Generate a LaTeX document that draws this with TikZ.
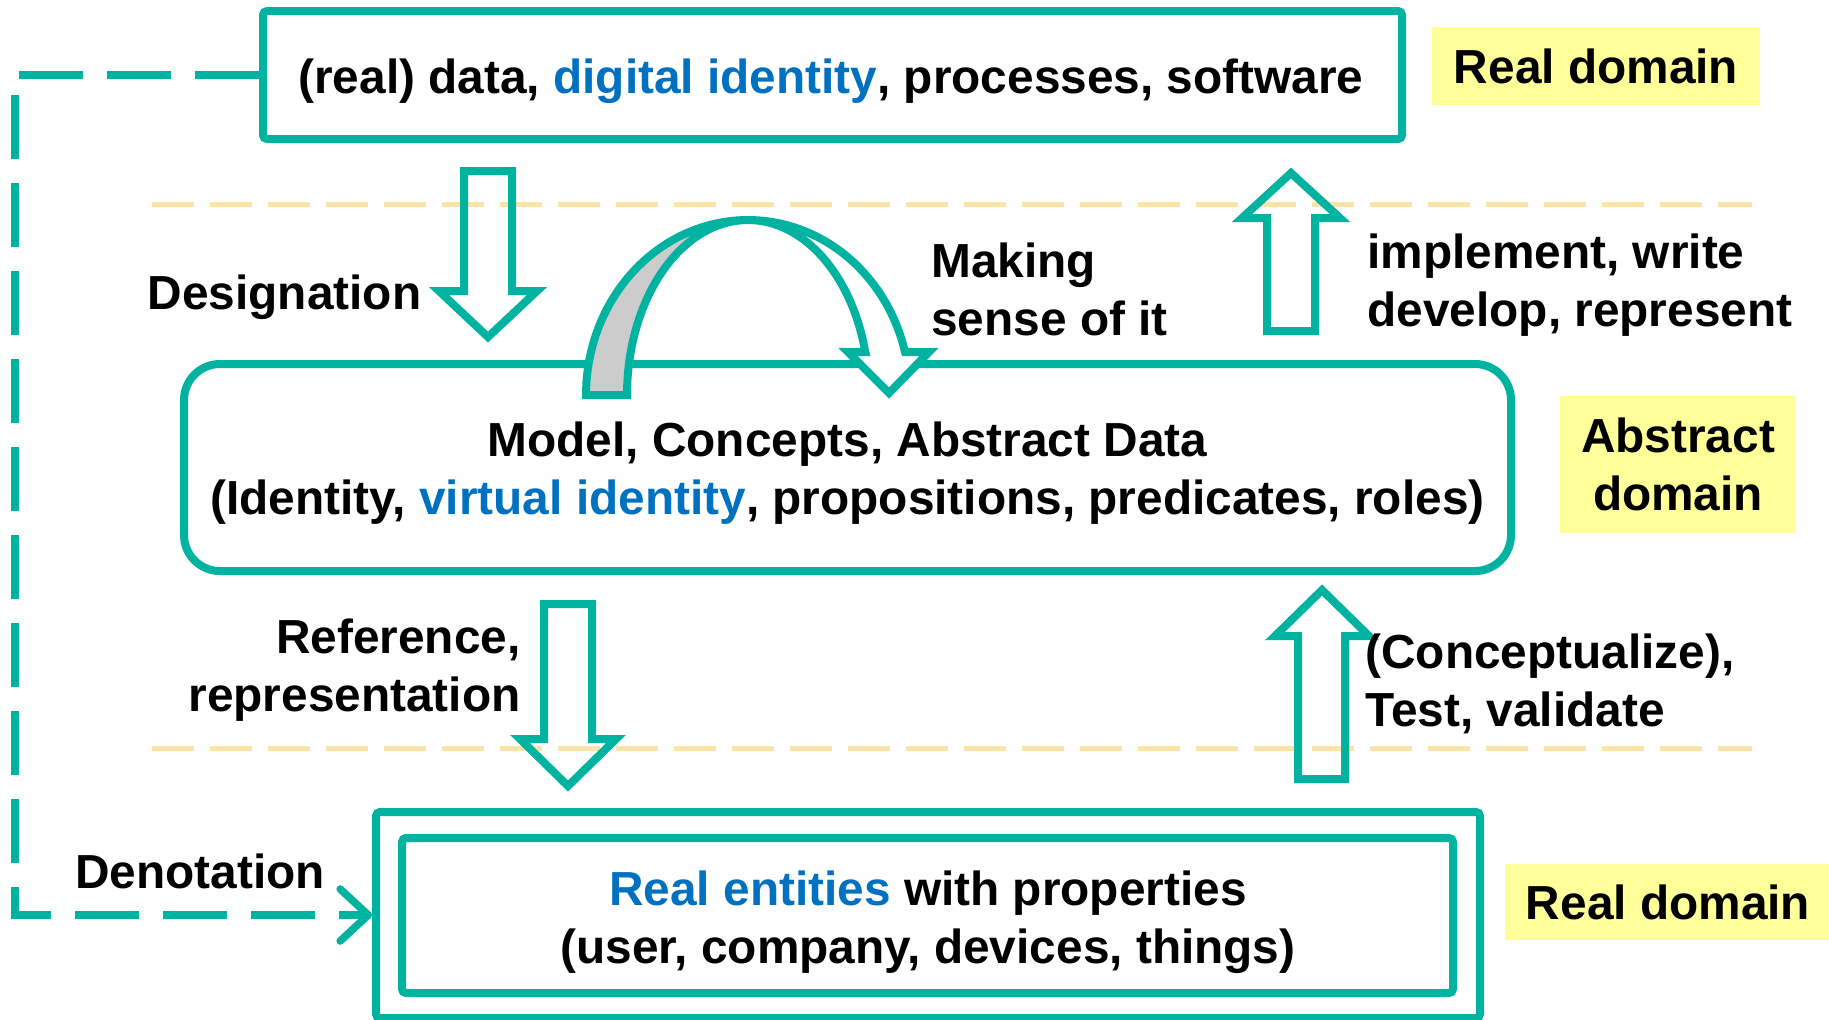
\documentclass[tikz,border=0pt]{standalone}
\usepackage{fontspec}
\setmainfont{Liberation Sans}
\usetikzlibrary{arrows.meta}
\definecolor{tealc}{RGB}{0,178,160}
\definecolor{blueid}{RGB}{0,112,192}
\definecolor{paleor}{RGB}{255,226,165}
\definecolor{yelbg}{RGB}{255,255,153}
\definecolor{bandgray}{RGB}{204,204,204}
\begin{document}
\begin{tikzpicture}[x=0.5pt,y=-0.5pt,
  every node/.style={font=\fontsize{23.9}{29}\selectfont\bfseries, inner sep=0pt},
  box/.style={draw=tealc, line width=4pt},
  blockarrow/.style={draw=tealc, line width=4pt, line join=miter},
  domainlabel/.style={fill=yelbg, align=center},
  guide/.style={draw=paleor, line width=2.5pt, dash pattern=on 21pt off 8pt},
  conn/.style={draw=tealc, line width=3.8pt, dash pattern=on 32pt off 12pt, -{Straight Barb[length=14pt,width=26pt,round]}}
]
\useasboundingbox (0,0) rectangle (1829,1019);

% guide lines
\draw[guide] (152,204) -- (1752,204);
\draw[guide] (152,748) -- (1752,748);

% boxes
\node[box, rounded corners=2pt, minimum width=569.5pt, minimum height=64pt] (real) at (832.5,75) {};
\node (realtext) at (831,81) {(real) data, \textcolor{blueid}{digital identity}, processes, software};
\node[box, rounded corners=18pt, minimum width=663.5pt, minimum height=103.5pt] (abstract) at (847.5,467.5) {};
\node[align=center] (abstracttext) at (847.5,473.5)
  {Model, Concepts, Abstract Data\\(Identity, \textcolor{blueid}{virtual identity}, propositions, predicates, roles)};
\node[box, rounded corners=2pt, minimum width=552pt, minimum height=103pt] (entouter) at (928,915) {};
\node[box, rounded corners=2pt, minimum width=525.5pt, minimum height=77.5pt] (entities) at (927.5,915.5) {};
\node[align=center] (entitiestext) at (928,922)
  {\textcolor{blueid}{Real entities} with properties\\(user, company, devices, things)};

% block arrows
\draw[blockarrow] (464,171) -- (512,171) -- (512,291) -- (537,291) -- (488,337) -- (439,291) -- (464,291) -- cycle;
\draw[blockarrow] (1267,331) -- (1315,331) -- (1315,218) -- (1340,218) -- (1291,173) -- (1242,218) -- (1267,218) -- cycle;
\draw[blockarrow] (544,604) -- (592,604) -- (592,739) -- (616,739) -- (568,786) -- (520,739) -- (544,739) -- cycle;
\draw[blockarrow] (1298,779) -- (1345,779) -- (1345,636) -- (1369,636) -- (1322,590) -- (1275,636) -- (1298,636) -- cycle;

% curved arrow
\fill[white] (586,395) -- plot[smooth,samples=40,domain=180:14.2,variable=\t] ({748+162*cos(\t)},{395-175*sin(\t)})
  -- (929,352) -- (889,393) -- (848,352)
  -- plot[smooth,samples=40,domain=14.2:180,variable=\t] ({748+121*cos(\t)},{395-175*sin(\t)}) -- cycle;
\fill[bandgray] plot[smooth,samples=30,domain=180:90,variable=\t] ({748+162*cos(\t)},{395-175*sin(\t)})
  -- plot[smooth,samples=30,domain=90:180,variable=\t] ({748+121*cos(\t)},{395-175*sin(\t)}) -- cycle;
\draw[blockarrow] (586,395) -- plot[smooth,samples=40,domain=180:14.2,variable=\t] ({748+162*cos(\t)},{395-175*sin(\t)})
  -- (929,352) -- (889,393) -- (848,352)
  -- plot[smooth,samples=40,domain=14.2:180,variable=\t] ({748+121*cos(\t)},{395-175*sin(\t)}) -- cycle;

% labels
\node[anchor=base] (designation) at (284.5,309) {Designation};
\node[anchor=west, align=left] (sense) at (931,289) {Making\\sense of it};
\node[anchor=west, align=left] (impl) at (1367,285) {implement, write\\develop, represent};
\node[anchor=east, align=right] (refr) at (521,670) {Reference,\\representation};
\node[anchor=west, align=left] (concept) at (1365,684) {(Conceptualize),\\Test, validate};
\node (denot) at (200,871) {Denotation};

\node[domainlabel, minimum width=164pt, minimum height=39pt] (dom1) at (1596,66) {Real domain};
\node[domainlabel, minimum width=118pt, minimum height=68.5pt] (dom2) at (1678,464.5) {Abstract\\domain};
\node[domainlabel, minimum width=163pt, minimum height=38pt] (dom3) at (1668,902) {Real domain};

% dashed connector
\coordinate (bend) at (15,500);
\draw[conn] (real.west) -| (bend) |- (entouter.west);
\end{tikzpicture}
\end{document}
